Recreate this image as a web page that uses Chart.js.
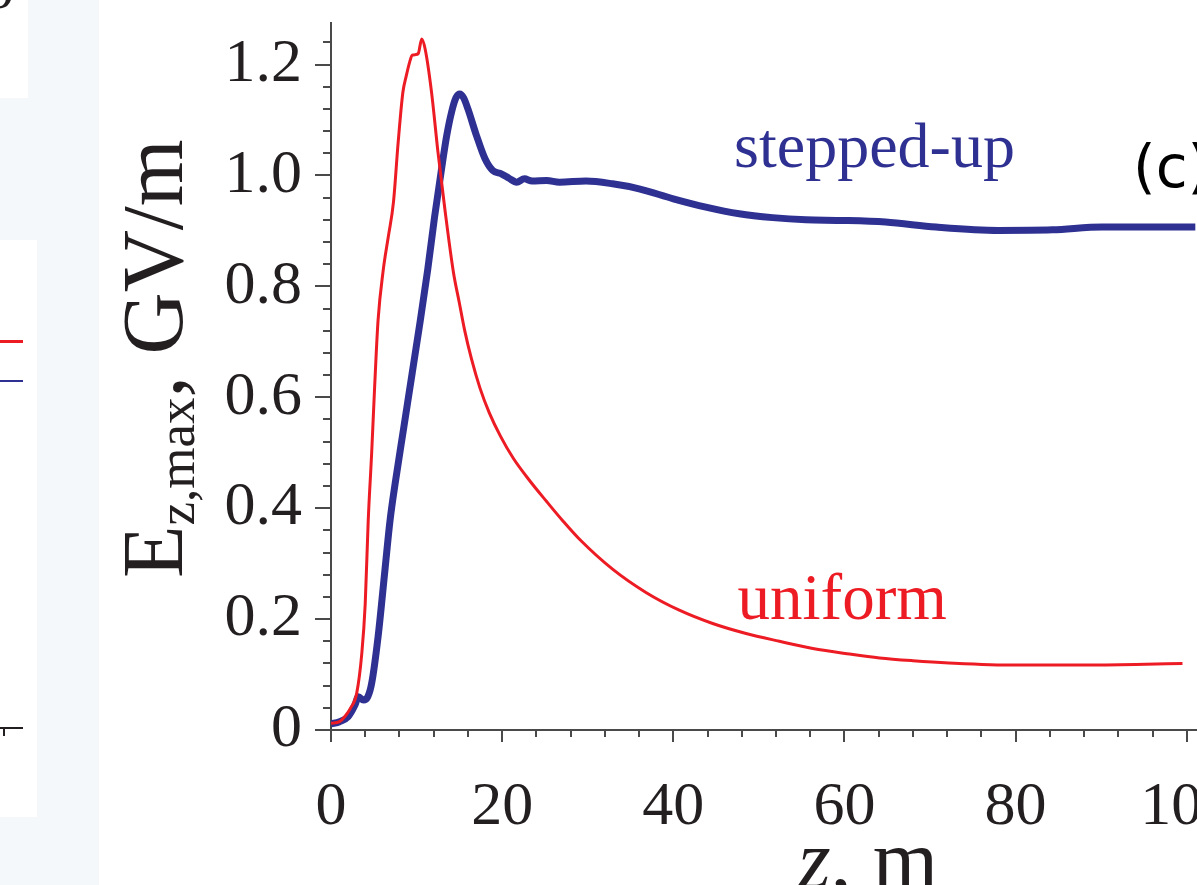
<!DOCTYPE html>
<html><head><meta charset="utf-8">
<script src="https://cdn.jsdelivr.net/npm/chart.js@4.4.1/dist/chart.umd.min.js"></script>
<style>
html,body{margin:0;padding:0;width:1197px;height:885px;overflow:hidden;background:#fff;}
#strip{position:absolute;left:0;top:0;width:99px;height:885px;background:#f4f8fa;}
.wbox{position:absolute;background:#fff;}
.dash{position:absolute;left:0;width:23px;}
#frag{position:absolute;left:-16px;top:-44px;font:62px 'Liberation Serif';line-height:62px;color:#231f20;}
#cv{position:absolute;left:0;top:0;}
</style>
</head><body>
<div id="strip"></div>
<div class="wbox" style="left:0;top:0;width:28px;height:98px;overflow:hidden"><div id="frag">0</div></div>
<div class="wbox" style="left:0;top:240px;width:37px;height:577px;"></div>
<div class="dash" style="top:340px;height:3px;background:#ed1c24"></div>
<div class="dash" style="top:380px;height:2px;background:#2e3192"></div>
<div class="dash" style="top:727px;height:2px;background:#231f20"></div>
<div style="position:absolute;left:3px;top:727px;width:2px;height:9px;background:#231f20"></div>
<canvas id="cv" width="1260" height="885"></canvas>
<script>
// ---- data ----
const zUniform = [0, 1.0, 1.6, 2.3, 3.0, 3.6, 4.0, 4.35, 4.75, 5.1, 5.5, 6.1, 6.7, 7.3, 7.85, 8.4, 8.8, 9.2, 9.5, 9.9, 10.2, 10.6, 11.0, 11.75, 12.5, 13.3, 14.3, 15.0, 15.6, 16.4, 17.4, 18.5, 19.8, 21.3, 23.2, 25.2, 27.1, 29.1, 32.9, 36.8, 40.7, 44.6, 48.5, 52.4, 56.3, 60.6, 64.1, 68, 72.2, 80, 87.8, 94, 99.5];
const eUniform = [0.012, 0.015, 0.024, 0.04, 0.066, 0.138, 0.228, 0.378, 0.499, 0.619, 0.739, 0.829, 0.89, 0.952, 1.06, 1.15, 1.18, 1.205, 1.217, 1.218, 1.22, 1.246, 1.228, 1.15, 1.042, 0.94, 0.826, 0.77, 0.722, 0.67, 0.617, 0.572, 0.53, 0.49, 0.45, 0.412, 0.377, 0.343, 0.29, 0.248, 0.216, 0.192, 0.174, 0.16, 0.147, 0.137, 0.13, 0.125, 0.121, 0.117, 0.117, 0.118, 0.12];
const zStepped = [0, 1.0, 2.0, 2.8, 3.2, 3.8, 4.3, 4.75, 5.5, 6.3, 6.9, 7.5, 8.5, 9.5, 10.4, 11.3, 12.1, 12.9, 13.5, 14.1, 14.6, 15.05, 15.5, 16.0, 17.0, 18.0, 18.9, 19.9, 20.8, 21.7, 22.6, 23.5, 25.2, 26.7, 29.8, 32.9, 36, 40, 43.8, 47.7, 51.6, 55.5, 59.4, 64.8, 70.7, 78, 84.3, 90.1, 95, 101];
const eStepped = [0.011, 0.015, 0.024, 0.045, 0.06, 0.054, 0.06, 0.084, 0.168, 0.288, 0.378, 0.445, 0.545, 0.645, 0.735, 0.83, 0.925, 1.01, 1.07, 1.115, 1.14, 1.147, 1.14, 1.12, 1.072, 1.03, 1.009, 1.003, 0.995, 0.988, 0.994, 0.99, 0.991, 0.988, 0.99, 0.985, 0.976, 0.958, 0.943, 0.931, 0.924, 0.92, 0.919, 0.916, 0.907, 0.901, 0.902, 0.907, 0.907, 0.907];
const xTickValues = [0, 20, 40, 60, 80, 100];
const xTickLabels = ['0', '20', '40', '60', '80', '100'];
const yTickValues = [0, 0.2, 0.4, 0.6, 0.8, 1.0, 1.2];
const yTickLabels = ['0', '0.2', '0.4', '0.6', '0.8', '1.0', '1.2'];
const seriesNames = ['uniform', 'stepped-up'];

// ---- style ----
const RED = '#ed1c24', BLUE = '#2e3192', AX = '#4a4a4a', TXT = '#231f20';
const SERIF = "'Liberation Serif', 'Times New Roman', serif";

const xMinor = []; for (let v = 0; v <= 104; v += 4) xMinor.push(v);
const yMinor = []; for (let i = 0; i <= 31; i++) yMinor.push(i * 0.04);

const toPts = (zs, es) => zs.map((z, i) => ({x: z, y: es[i]}));

const decor = {
  id: 'decor',
  afterDraw(chart) {
    const ctx = chart.ctx, xs = chart.scales.x, ys = chart.scales.y, ca = chart.chartArea;
    ctx.save();
    ctx.strokeStyle = AX; ctx.lineWidth = 2;
    yMinor.forEach(v => { const p = Math.round(ys.getPixelForValue(v)); ctx.beginPath(); ctx.moveTo(ca.left - 8, p); ctx.lineTo(ca.left, p); ctx.stroke(); });
    xMinor.forEach(v => { const p = Math.round(xs.getPixelForValue(v)); ctx.beginPath(); ctx.moveTo(p, ca.bottom); ctx.lineTo(p, ca.bottom + 7); ctx.stroke(); });
    // y title
    ctx.fillStyle = TXT; ctx.textBaseline = 'alphabetic'; ctx.textAlign = 'left';
    ctx.translate(182, 578); ctx.rotate(-Math.PI / 2);
    ctx.font = '86px ' + SERIF; ctx.fillText('E', 0, 0);
    let w = ctx.measureText('E').width;
    ctx.font = '53px ' + SERIF; ctx.fillText('z,max', w, 12);
    w += ctx.measureText('z,max').width;
    ctx.font = '86px ' + SERIF; ctx.fillText(', GV/m', w, 0);
    ctx.setTransform(1, 0, 0, 1, 0, 0);
    // x title
    ctx.font = 'italic 84px ' + SERIF; const wz = ctx.measureText('z').width;
    ctx.font = '84px ' + SERIF; const wr = ctx.measureText(', m').width;
    const cx = 868, sx = cx - (wz + wr) / 2;
    ctx.font = 'italic 84px ' + SERIF; ctx.fillText('z', sx, 888);
    ctx.font = '84px ' + SERIF; ctx.fillText(', m', sx + wz, 888);
    // series labels
    ctx.font = '64px ' + SERIF; ctx.fillStyle = BLUE;
    ctx.fillText(seriesNames[1], xs.getPixelForValue(47.1), ys.getPixelForValue(1.016));
    ctx.font = '65px ' + SERIF; ctx.fillStyle = RED;
    ctx.fillText(seriesNames[0], xs.getPixelForValue(47.5), ys.getPixelForValue(0.2));
    // panel label
    ctx.font = "58px 'DejaVu Sans', sans-serif"; ctx.fillStyle = '#000';
    ctx.fillText('(c)', 1133, 187);
    ctx.restore();
  }
};

new Chart(document.getElementById('cv'), {
  type: 'line',
  data: {
    datasets: [
      {label: seriesNames[0], data: toPts(zUniform, eUniform), borderColor: RED, borderWidth: 3, pointRadius: 0, cubicInterpolationMode: 'monotone', order: 0},
      {label: seriesNames[1], data: toPts(zStepped, eStepped), borderColor: BLUE, borderWidth: 7, pointRadius: 0, cubicInterpolationMode: 'monotone', order: 1}
    ]
  },
  options: {
    responsive: false, animation: false, devicePixelRatio: 1,
    layout: {padding: {top: 23, right: 39, left: 0, bottom: 0}},
    plugins: {legend: {display: false}, tooltip: {enabled: false}},
    scales: {
      x: {
        type: 'linear', min: 0, max: 104,
        afterBuildTicks: s => { s.ticks = xTickValues.map(v => ({value: v})); },
        afterFit: s => { s.height = 885 - 730; s.paddingLeft = 0; s.paddingRight = 0; },
        grid: {drawOnChartArea: false, drawTicks: true, tickLength: 12, color: AX, lineWidth: 2},
        border: {display: true, color: AX, width: 2},
        ticks: {padding: 29, color: TXT, font: {family: SERIF, size: 62}, maxRotation: 0, autoSkip: false,
          callback: (v) => xTickLabels[xTickValues.indexOf(v)]}
      },
      y: {
        type: 'linear', min: 0, max: 1.275,
        afterBuildTicks: s => { s.ticks = yTickValues.map(v => ({value: v})); },
        afterFit: s => { s.width = 331; s.paddingTop = 0; s.paddingBottom = 0; },
        grid: {drawOnChartArea: false, drawTicks: true, tickLength: 16, color: AX, lineWidth: 2},
        border: {display: true, color: AX, width: 2},
        ticks: {padding: 13, color: TXT, font: {family: SERIF, size: 62}, autoSkip: false,
          callback: (v) => yTickLabels[yTickValues.indexOf(v)]}
      }
    }
  },
  plugins: [decor]
});
</script>
</body></html>
